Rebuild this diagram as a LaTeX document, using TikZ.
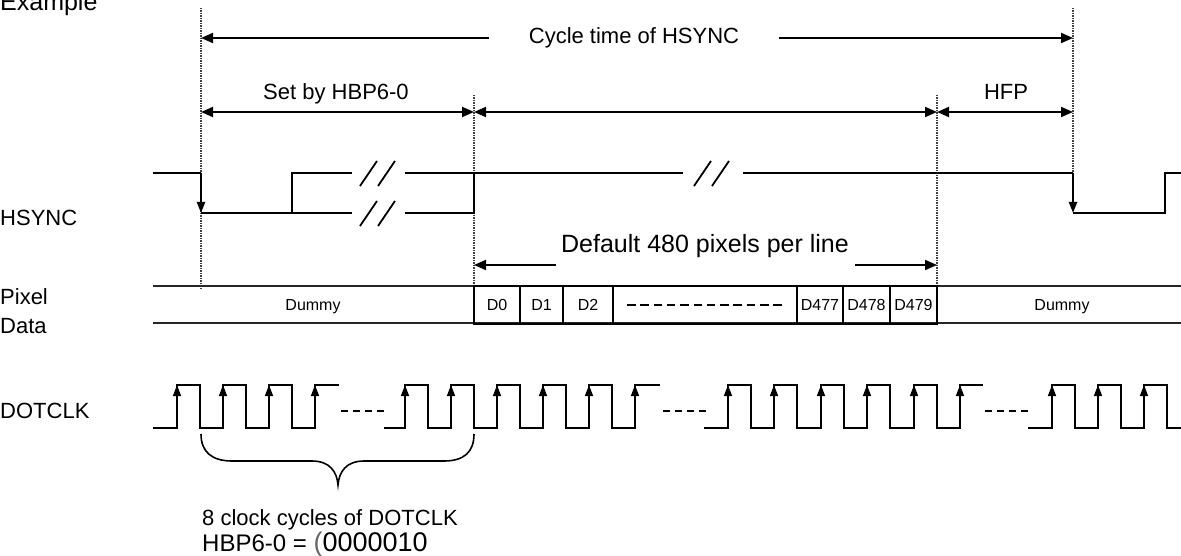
\documentclass[tikz,border=0pt]{standalone}
\usepackage{fontspec}
\setmainfont{Liberation Sans}
\usetikzlibrary{arrows.meta}
\begin{document}
\begin{tikzpicture}[x=1pt,y=-1pt,line join=miter,
        sig/.style={line width=2.7pt},
        thinsig/.style={line width=1.6pt},
        dim/.style={line width=1.9pt,-{Triangle[length=12pt,width=10pt]}},
        dimboth/.style={line width=1.9pt,{Triangle[length=12pt,width=10pt]}-{Triangle[length=12pt,width=10pt]}},
        guide/.style={line width=1.1pt,dash pattern=on 1.1pt off 1.4pt,black!75},
        edge/.style={line width=1.5pt,-{Triangle[length=11pt,width=8pt]}},
        cellbox/.style={line width=2.8pt},
        bus/.style={line width=2.2pt,black!85},
        lbl/.style={inner sep=0pt,font=\fontsize{22}{26}\selectfont},
        big/.style={inner sep=0pt,font=\fontsize{25}{30}\selectfont},
        cell/.style={inner sep=0pt,font=\fontsize{16}{19}\selectfont}]
    \useasboundingbox (0,0) rectangle (1181,556);

    \node[big,anchor=base west] (title) at (0,11) {Example};

    % vertical guides
    \draw[guide] (201,8) -- (201,290);
    \draw[guide] (474,95) -- (474,290);
    \draw[guide] (937,95) -- (937,290);
    \draw[guide] (1073,8) -- (1073,200);

    % cycle time of HSYNC
    \coordinate (c1) at (201,38);
    \coordinate (c2) at (1073,38);
    \node[lbl,inner xsep=40pt] (cyc) at (634,38) {Cycle time of HSYNC};
    \draw[dim] (cyc) -- (c1);
    \draw[dim] (cyc) -- (c2);

    % back porch, active line, front porch
    \coordinate (b0) at (201,112);
    \coordinate (b1) at (474,112);
    \coordinate (b2) at (937,112);
    \coordinate (b3) at (1073,112);
    \draw[dimboth] (b0) -- (b1);
    \draw[dimboth] (b1) -- (b2);
    \draw[dimboth] (b2) -- (b3);
    \node[lbl,anchor=base] (hbp) at (336,100) {Set by HBP6-0};
    \node[lbl,anchor=base] (hfp) at (1006,100) {HFP};

    % HSYNC
    \node[lbl,anchor=base west] (hsync) at (0,226) {HSYNC};
    \draw[sig] (153,173) -- (201,173);
    \draw[sig] (201,213) -- (292,213);
    \draw[edge,line width=2.2pt] (201,173) -- (201,213);
    \draw[thinsig] (352,173) -- (292,173) -- (292,213) -- (352,213);
    \draw[thinsig] (405,173) -- (474,173) -- (474,213) -- (405,213);
    \draw[thinsig] (474,173) -- (683,173);
    \draw[thinsig] (743,173) -- (937,173);
    \draw[sig] (937,173) -- (1073,173);
    \draw[edge,line width=2.2pt] (1073,173) -- (1073,213);
    \draw[sig] (1073,213) -- (1165,213) -- (1165,173) -- (1190,173);
    \foreach \x/\y in {360/173,378/173,360/213,378/213,694/173,712/173}
        \draw[line width=1.8pt] (\x,\y+13) -- (\x+17,\y-12);

    % active pixels
    \node[big,anchor=base] (dflt) at (705,253) {Default 480 pixels per line};
    \coordinate (d1) at (474,265);
    \coordinate (d2) at (937,265);
    \draw[dim] (556,265) -- (d1);
    \draw[dim] (855,265) -- (d2);

    % pixel data
    \node[lbl,anchor=base west] (pix) at (0,305) {Pixel};
    \node[lbl,anchor=base west] (dat) at (0,333) {Data};
    \draw[bus] (153,286) -- (1190,286);
    \draw[bus] (153,323) -- (1190,323);
    \draw[cellbox] (474,286) rectangle (937,324);
    \foreach \x in {520,563,613,797,843,890}
        \draw[cellbox] (\x,286) -- (\x,324);
    \node[cell,anchor=base] (dum1) at (313,310) {Dummy};
    \node[cell,anchor=base] (px0) at (497,310) {D0};
    \node[cell,anchor=base] (px1) at (541.5,310) {D1};
    \node[cell,anchor=base] (px2) at (588,310) {D2};
    \draw[line width=2.4pt,dash pattern=on 8.5pt off 4.8pt] (627,305) -- (785,305);
    \node[cell,anchor=base] (px477) at (820,310) {D477};
    \node[cell,anchor=base] (px478) at (866.5,310) {D478};
    \node[cell,anchor=base] (px479) at (913.5,310) {D479};
    \node[cell,anchor=base] (dum2) at (1062,310) {Dummy};

    % DOTCLK
    \node[lbl,anchor=base west] (clk) at (0,418) {DOTCLK};
    \draw[sig] (153,428) \foreach \x in {177,223,269} {-- (\x,428) -- (\x,385) -- (\x+23,385) -- (\x+23,428)}
        -- (315,428) -- (315,385) -- (339,385);
    \draw[sig] (384,428) \foreach \x in {405,451,497,543,589} {-- (\x,428) -- (\x,385) -- (\x+23,385) -- (\x+23,428)}
        -- (635,428) -- (635,385) -- (660,385);
    \draw[sig] (704,428) \foreach \x in {728,774,821,867,914} {-- (\x,428) -- (\x,385) -- (\x+23,385) -- (\x+23,428)}
        -- (960,428) -- (960,385) -- (983,385);
    \draw[sig] (1028,428) \foreach \x in {1052,1098,1144} {-- (\x,428) -- (\x,385) -- (\x+23,385) -- (\x+23,428)}
        -- (1190,428);
    \foreach \x in {177,223,269,315,405,451,497,543,589,635,728,774,821,867,914,960,1052,1098,1144}
        \draw[edge] (\x,410) -- (\x,385);
    \foreach \x in {341,663,985}
        \draw[line width=1.8pt,dash pattern=on 7pt off 5pt] (\x,411) -- (\x+43,411);

    % brace over the back porch clocks
    \draw[line width=1.6pt] (201,434) .. controls (201,452) and (212,461) .. (232,461) -- (312,461)
        .. controls (330,461) and (337,472) .. (338,485) .. controls (339,472) and (346,461) .. (364,461)
        -- (444,461) .. controls (464,461) and (474,452) .. (474,434);
    \node[lbl,anchor=base west] (ncyc) at (202,525) {8 clock cycles of DOTCLK};
    \node[anchor=base west,inner sep=0pt,font=\fontsize{24}{28}\selectfont] (hbpval) at (202,551)
        {HBP6-0 = {\fontsize{27}{30}\selectfont{\color{black!60}(}0000010}};
\end{tikzpicture}
\end{document}
